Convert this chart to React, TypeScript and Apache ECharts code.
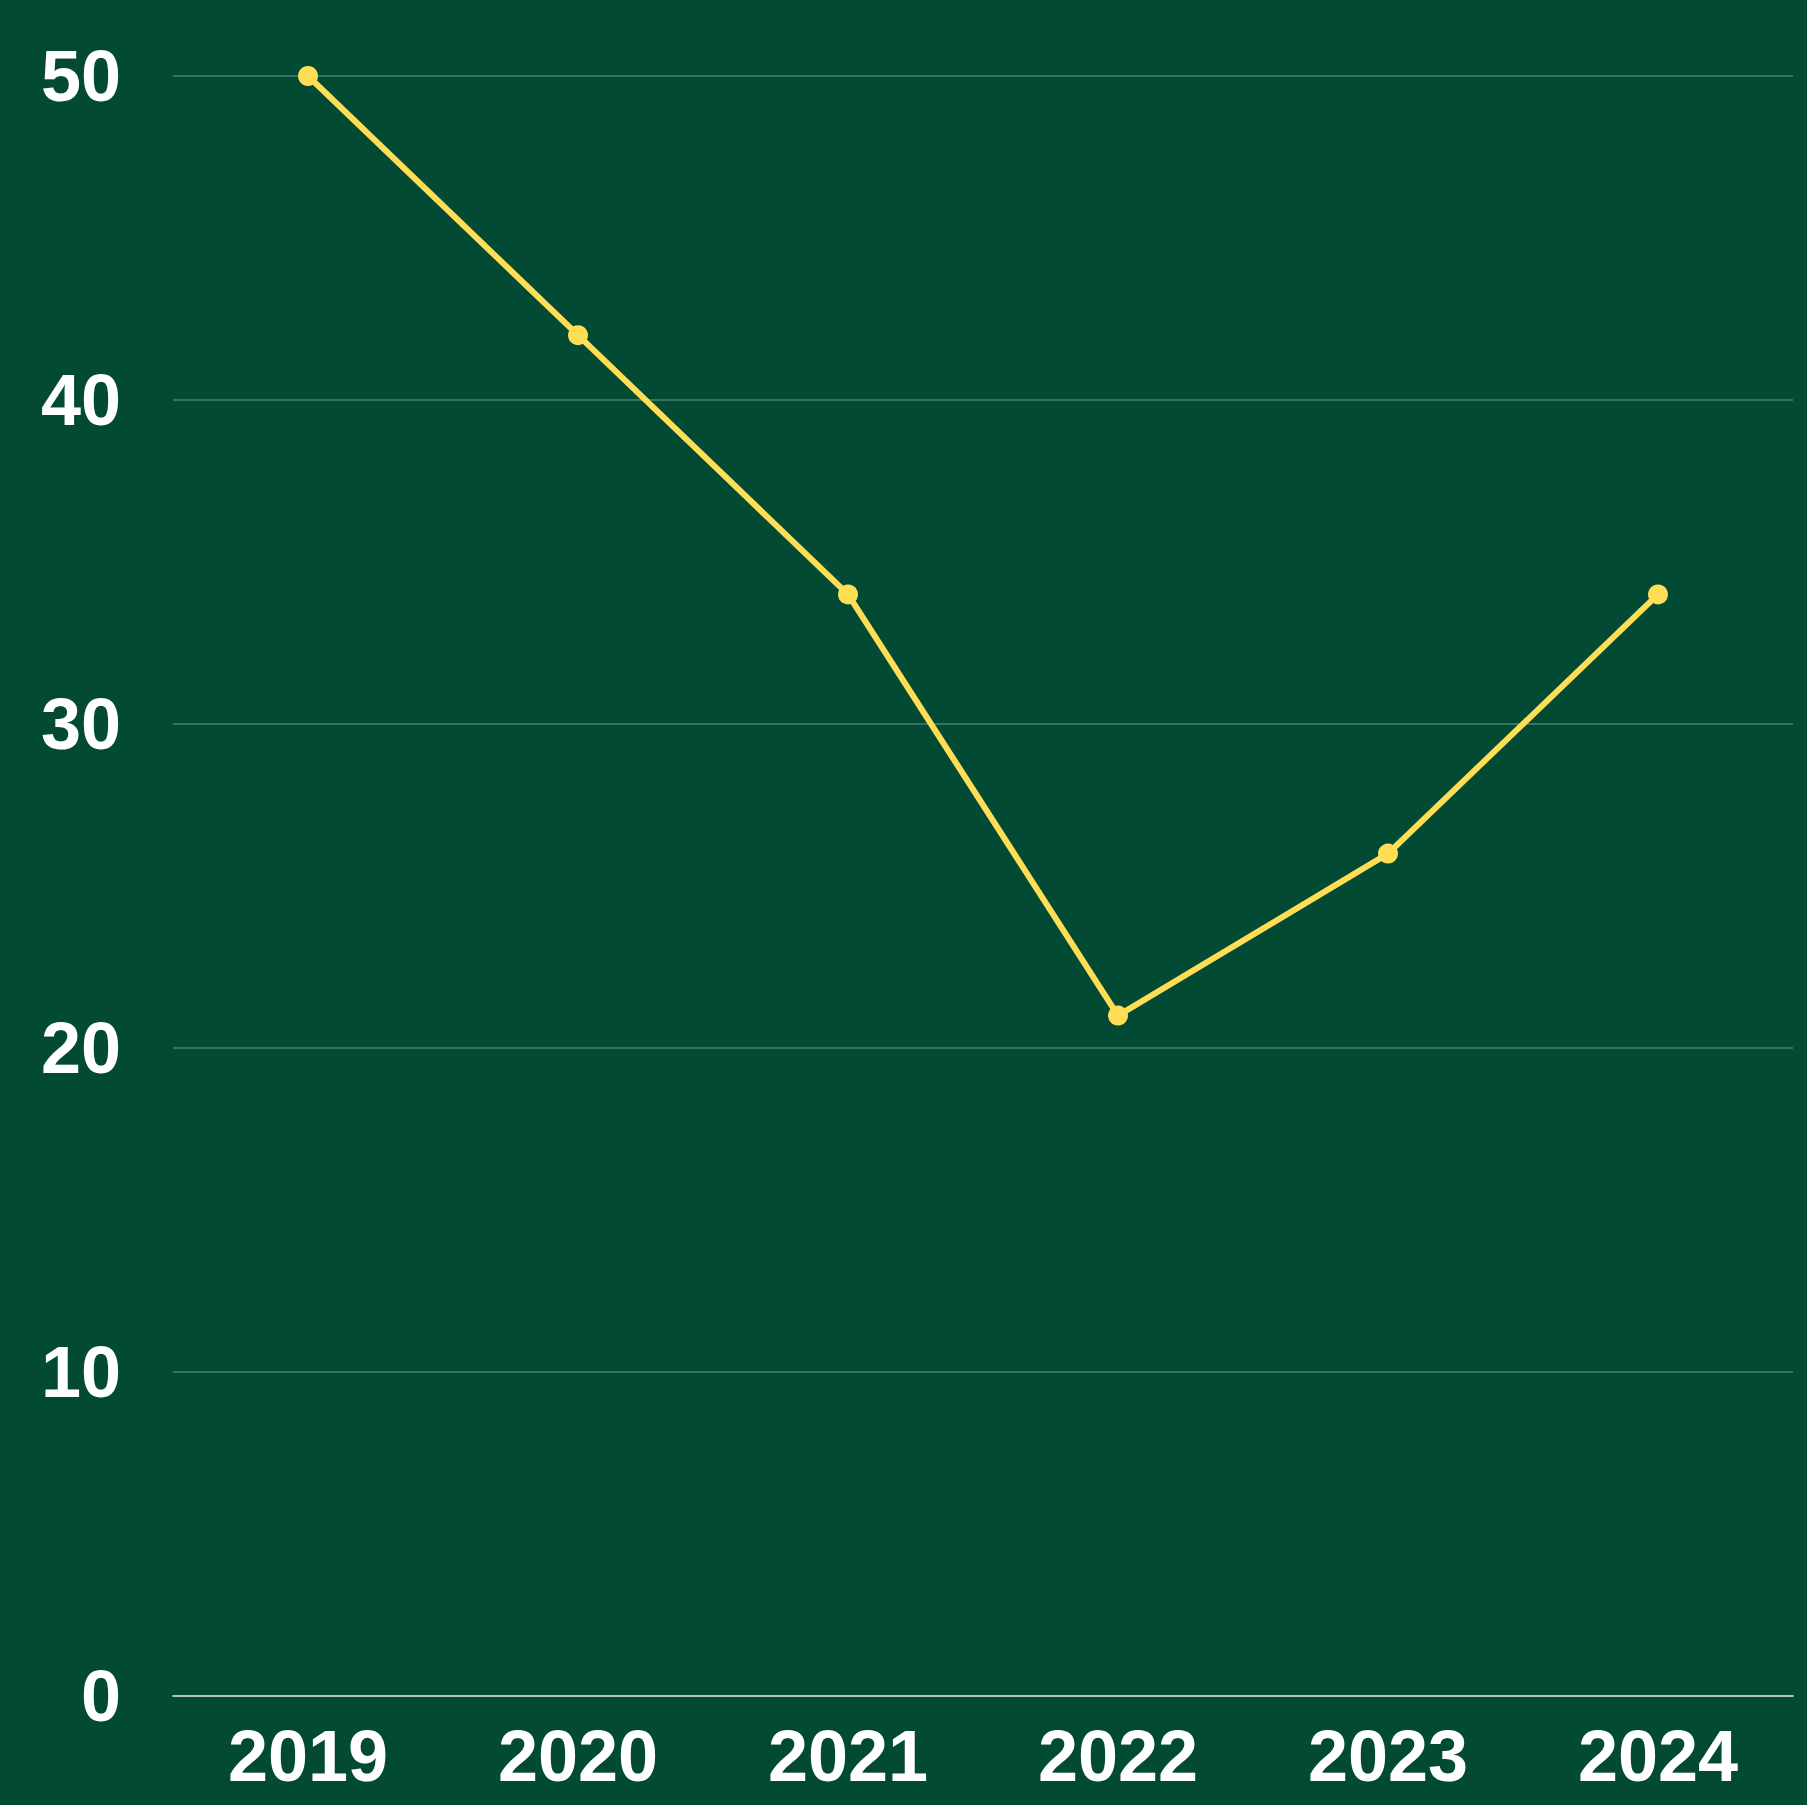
import React, { useEffect, useRef } from "react";
import * as echarts from "echarts";

const years = ["2019", "2020", "2021", "2022", "2023", "2024"];
const values = [50, 42, 34, 21, 26, 34];

export default function App() {
  const ref = useRef<HTMLDivElement>(null);
  useEffect(() => {
    const chart = echarts.init(ref.current!, null, { renderer: "svg" });
    chart.setOption({
      animation: false,
      backgroundColor: "#024A33",
      grid: { left: 173, right: 14, top: 76, bottom: 109, containLabel: false },
      xAxis: {
        type: "category",
        data: years,
        boundaryGap: true,
        axisLine: { show: true, lineStyle: { color: "rgba(255,255,255,0.6)", width: 2 } },
        axisTick: { show: false },
        axisLabel: {
          color: "#ffffff",
          fontSize: 72,
          fontWeight: "bold",
          fontFamily: "Liberation Sans",
          margin: 24,
        },
        splitLine: { show: false },
      },
      yAxis: {
        type: "value",
        min: 0,
        max: 50,
        interval: 10,
        axisLine: { show: false },
        axisTick: { show: false },
        axisLabel: {
          color: "#ffffff",
          fontSize: 72,
          fontWeight: "bold",
          fontFamily: "Liberation Sans",
          margin: 52,
        },
        splitLine: { lineStyle: { color: "rgba(255,255,255,0.3)", width: 1.5 } },
      },
      series: [
        {
          type: "line",
          data: values,
          symbol: "circle",
          symbolSize: 20,
          lineStyle: { color: "#FFDD55", width: 6 },
          itemStyle: { color: "#FFDD55" },
        },
      ],
    });
    return () => chart.dispose();
  }, []);
  return (
    <div
      ref={ref}
      style={{ position: "fixed", left: 0, top: 0, width: 1807, height: 1805 }}
    />
  );
}
